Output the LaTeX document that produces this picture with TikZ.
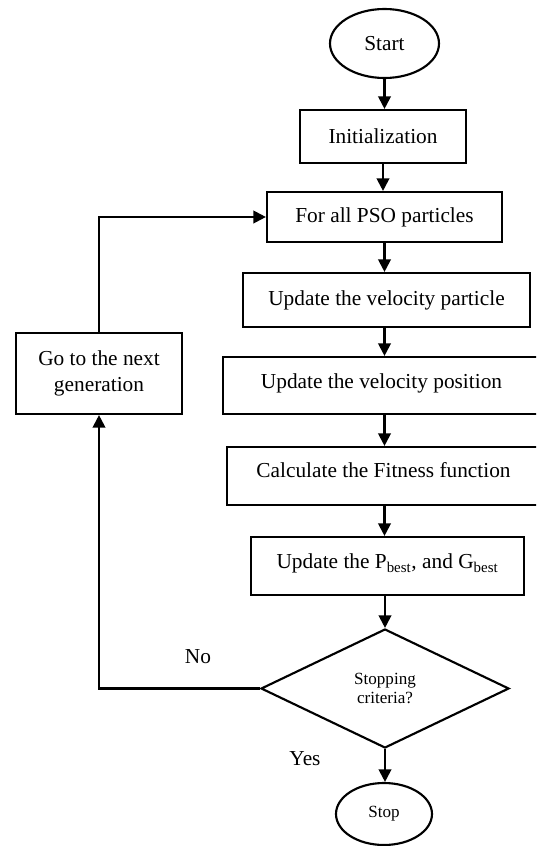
\documentclass[tikz,border=0pt]{standalone}
\usepackage{fontspec}
\setmainfont{Liberation Serif}
\usetikzlibrary{shapes.geometric,arrows.meta}

\tikzset{every picture/.style={line width=1.6pt}}
\tikzset{
	procbox/.style={draw, rectangle, inner sep=0pt, align=center, font=\fontsize{16}{19}\selectfont},
	termnode/.style={draw, ellipse, inner sep=0pt},
	arr/.style={-{Triangle[length=9.5pt,width=9.5pt]}}
}

\begin{document}
\begin{tikzpicture}[x=0.75pt,y=0.75pt,yscale=-1,xscale=1]
	%set diagram area 536 x 846
	\clip (0,0) rectangle (536,846);
	
	%Shape: Ellipse [start]
	\node (start) [termnode, minimum width=81.75pt, minimum height=51.75pt, font=\fontsize{16}{19}\selectfont] at (384.5,43.5) {Start};
	%Shape: Rectangle [init]
	\node (init) [procbox, minimum width=124.5pt, minimum height=39.75pt] at (383,136.5) {Initialization};
	%Shape: Rectangle [pso]
	\node (pso) [procbox, minimum width=176.25pt, minimum height=37.5pt] at (384.5,217) {For all PSO particles};
	%Shape: Rectangle [velpart]
	\node (velpart) [procbox, minimum width=215.25pt, minimum height=40.5pt] at (386.5,300) {Update the velocity particle};
	%Shape: Rectangle [velpos] (runs past the right edge)
	\node (velpos) [procbox, minimum width=237.75pt, minimum height=42.75pt] at (381.5,385.5) {\raisebox{6pt}{Update the velocity position}};
	%Shape: Rectangle [fitness] (runs past the right edge)
	\node (fitness) [procbox, minimum width=234.75pt, minimum height=43.5pt] at (383.5,476) {\raisebox{9pt}{Calculate the Fitness function}};
	%Shape: Rectangle [pbest]
	\node (pbest) [procbox, minimum width=204.75pt, minimum height=43.5pt] at (387.5,566) {\raisebox{7pt}{Update the P\textsubscript{best}, and G\textsubscript{best}}};
	%Shape: Diamond [crit]
	\node (crit) [draw, diamond, inner sep=0pt, minimum width=186pt, minimum height=89.25pt, align=center, font=\fontsize{12.8}{14}\selectfont] at (385,688.5) {Stopping\\criteria?};
	%Shape: Ellipse [stop]
	\node (stop) [termnode, minimum width=72pt, minimum height=46.5pt, font=\fontsize{12.8}{14}\selectfont] at (384,814) {Stop};
	%Shape: Rectangle [gonext]
	\node (gonext) [procbox, minimum width=124.5pt, minimum height=60.75pt] at (99,373.5) {Go to the next\\generation};
	
	% Text Node
	\node (no) [font=\fontsize{16}{19}\selectfont] at (198,657) {No};
	% Text Node
	\node (yes) [font=\fontsize{16}{19}\selectfont] at (305,759) {Yes};
	
	%Straight Lines
	\draw [arr] (start.south) -- (start.south |- init.north);
	\draw [arr] (init.south) -- (init.south |- pso.north);
	\draw [arr] (pso.south) -- (pso.south |- velpart.north);
	\draw [arr] (velpart.south -| pso.south) -- (pso.south |- velpos.north);
	\draw [arr] (velpos.south -| pso.south) -- (pso.south |- fitness.north);
	\draw [arr] (fitness.south -| pso.south) -- (pso.south |- pbest.north);
	\draw [arr] (pbest.south -| crit.north) -- (crit.north);
	\draw [arr] (crit.south) -- (crit.south |- stop.north);
	%Loop back
	\draw [arr] (crit.west) -| (gonext.south);
	\draw [arr] (gonext.north) |- (pso.west);
	
\end{tikzpicture}
\end{document}
